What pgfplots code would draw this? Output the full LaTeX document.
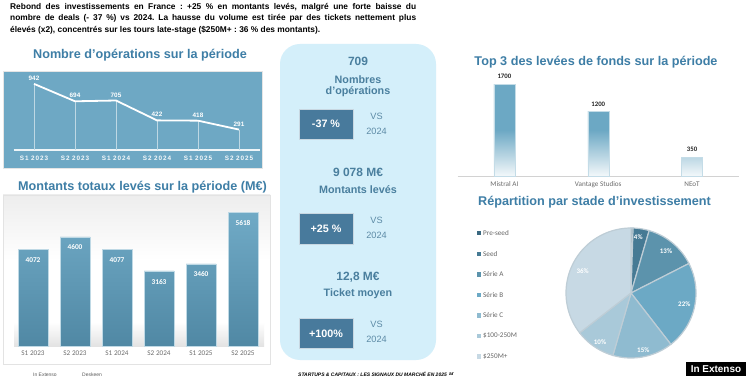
\documentclass[border=0pt]{standalone}
\usepackage{pgfplots}
\pgfplotsset{compat=1.18}
\usepackage{fontspec}
\setmainfont{Liberation Sans}
\newfontfamily\calfont{Carlito}
\definecolor{titleblue}{RGB}{62,126,166}
\definecolor{linepanel}{RGB}{110,168,196}
\definecolor{midfill}{RGB}{212,239,250}
\definecolor{midtext}{RGB}{74,127,158}
\definecolor{boxfill}{RGB}{72,122,156}
\definecolor{vstext}{RGB}{92,138,165}
\definecolor{bartop}{RGB}{112,170,198}
\definecolor{barbot}{RGB}{80,136,164}
\definecolor{topbar}{RGB}{108,168,196}
\definecolor{pA}{RGB}{58,104,128}
\definecolor{pB}{RGB}{70,122,148}
\definecolor{pC}{RGB}{92,147,172}
\definecolor{pD}{RGB}{108,169,197}
\definecolor{pE}{RGB}{143,187,208}
\definecolor{pF}{RGB}{169,201,217}
\definecolor{pG}{RGB}{199,217,228}
\definecolor{pieedge}{RGB}{190,205,214}
\pgfplotsset{/pgf/number format/.cd, 1000 sep={}, assume math mode=true}
\tikzset{px/.style={x=1bp,y=-1bp,yshift=375bp}}
\begin{document}
\frenchspacing
\begin{tikzpicture}
\begin{scope}[px]
\useasboundingbox (0,0) rectangle (750,375);
\fill[white] (0,0) rectangle (750,375);

% ---------- top text
\node[anchor=north west, inner sep=0pt, text width=406bp, align=justify,
  font=\bfseries\fontsize{8.4}{11.4}\selectfont] at (10,3.2)
  {\frenchspacing Rebond des investissements en France : +25 \% en montants levés, malgré une forte baisse du\linebreak
   nombre de deals (- 37 \%) vs 2024. La hausse du volume est tirée par des tickets nettement plus\linebreak
   élevés (x2), concentrés sur les tours late-stage (\$250M+ : 36 \% des montants).};

% ---------- titles
\tikzset{ttl/.style={font=\bfseries\fontsize{12.7}{14}\selectfont, text=titleblue, inner sep=0pt}}
\node[ttl] at (140,55) {Nombre d'opérations sur la période};
\node[ttl] at (142.5,187) {Montants totaux levés sur la période (M€)};
\node[ttl] at (596,62.5) {Top 3 des levées de fonds sur la période};
\node[ttl] at (594.5,202) {Répartition par stade d'investissement};

% ---------- panels
\fill[linepanel] (3.5,71.5) rectangle (262,168);
\draw[gray!20, line width=0.8bp] (3.5,71.5) rectangle (262,168);
\fill[white] (3,195) rectangle (270,364);
\shade[top color=gray!14, bottom color=white] (3,195) rectangle (270,260);
\shade[top color=white, bottom color=gray!22] (14,322) rectangle (264,346);
\draw[gray!22, line width=0.8bp] (3,195) rectangle (270,364);
\fill[midfill, rounded corners=20bp] (280,44) rectangle (436,360);
\end{scope}

% ---------- line chart
\begin{axis}[at={(13.5bp,225bp)}, anchor=south west, scale only axis,
  width=246bp, height=70.2bp, xmin=-0.5, xmax=5.5, ymin=0, ymax=1000,
  axis line style={draw=none}, ytick=\empty, xtick={0,1,2,3,4,5},
  xticklabels={S1 2023,S2 2023,S1 2024,S2 2024,S1 2025,S2 2025},
  major tick length=0pt,
  xticklabel style={font=\bfseries\fontsize{6.4}{7}\selectfont\addfontfeatures{LetterSpace=14}, text=white!92!linepanel, yshift=-2.5bp},
  clip=false]
\addplot[white!88!linepanel, line width=1.1bp, forget plot] coordinates {(-0.5,0) (5.5,0)};
\addplot[ycomb, white!55!linepanel, line width=0.5bp, no markers] coordinates {(0,942) (1,694) (2,705) (3,422) (4,418) (5,291)};
\addplot[white, line width=1.8bp, no markers,
  nodes near coords, every node near coord/.append style={font=\bfseries\fontsize{6.4}{7}\selectfont, text=white, anchor=south, inner sep=1bp, yshift=1.5bp}]
  coordinates {(0,942) (1,694) (2,705) (3,422) (4,418) (5,291)};
\end{axis}

% ---------- bar chart
\begin{axis}[at={(12bp,29bp)}, anchor=south west, scale only axis,
  width=252bp, height=142.4bp, xmin=-0.5, xmax=5.5, ymin=0, ymax=6000,
  ybar, bar width=30bp,
  axis line style={draw=none}, ytick=\empty, xtick={0,1,2,3,4,5},
  xticklabels={S1 2023,S2 2023,S1 2024,S2 2024,S1 2025,S2 2025},
  major tick length=0pt,
  xticklabel style={font=\calfont\fontsize{7.2}{8}\selectfont, text=gray!85!black, yshift=-1.5bp},
  clip=false]
\addplot[draw=white!55!bartop, line width=0.5bp, top color=bartop, bottom color=barbot,
  nodes near coords, every node near coord/.append style={font=\calfont\bfseries\fontsize{7.4}{8}\selectfont, text=white, anchor=north, yshift=-4.5bp}]
  coordinates {(0,4072) (1,4600) (2,4077) (3,3163) (4,3460) (5,5618)};
\end{axis}

% ---------- top 3 bars
\begin{axis}[at={(457.5bp,199bp)}, anchor=south west, scale only axis,
  width=281.5bp, height=108.2bp, xmin=-0.5, xmax=2.5, ymin=0, ymax=2000,
  ybar, bar width=21bp,
  axis x line*=bottom, axis y line=none, x axis line style={gray!35, line width=0.6bp, -},
  ytick=\empty, xtick={0,1,2}, xticklabels={Mistral AI,Vantage Studios,NEoT},
  major tick length=0pt,
  xticklabel style={font=\calfont\fontsize{7.2}{8}\selectfont, text=gray!85!black, yshift=-2bp},
  clip=false]
\addplot[draw=white!60!topbar, line width=0.4bp, top color=topbar, bottom color=white!92!topbar, middle color=topbar,
  nodes near coords, every node near coord/.append style={font=\calfont\bfseries\fontsize{6.8}{8}\selectfont, text=gray!30!black, anchor=south, yshift=1.5bp}]
  coordinates {(0,1700) (1,1200) (2,350)};
\end{axis}

% ---------- pie
\begin{axis}[at={(566bp,17bp)}, anchor=south west, scale only axis,
  width=130bp, height=130bp, xmin=-1, xmax=1, ymin=-1, ymax=1,
  hide axis, clip=false]
\addplot[fill=pA, draw=pieedge, line width=1.2bp, domain=0:0.5, samples=4, variable=\t]
  ({cos(90-3.6*\t)},{sin(90-3.6*\t)}) -- (axis cs:0,0) -- cycle;
\addplot[fill=pB, draw=pieedge, line width=1.2bp, domain=0.5:4.5, samples=8, variable=\t]
  ({cos(90-3.6*\t)},{sin(90-3.6*\t)}) -- (axis cs:0,0) -- cycle;
\addplot[fill=pC, draw=pieedge, line width=1.2bp, domain=4.5:17.5, samples=20, variable=\t]
  ({cos(90-3.6*\t)},{sin(90-3.6*\t)}) -- (axis cs:0,0) -- cycle;
\addplot[fill=pD, draw=pieedge, line width=1.2bp, domain=17.5:39.5, samples=30, variable=\t]
  ({cos(90-3.6*\t)},{sin(90-3.6*\t)}) -- (axis cs:0,0) -- cycle;
\addplot[fill=pE, draw=pieedge, line width=1.2bp, domain=39.5:54.5, samples=22, variable=\t]
  ({cos(90-3.6*\t)},{sin(90-3.6*\t)}) -- (axis cs:0,0) -- cycle;
\addplot[fill=pF, draw=pieedge, line width=1.2bp, domain=54.5:64.5, samples=16, variable=\t]
  ({cos(90-3.6*\t)},{sin(90-3.6*\t)}) -- (axis cs:0,0) -- cycle;
\addplot[fill=pG, draw=pieedge, line width=1.2bp, domain=64.5:100, samples=45, variable=\t]
  ({cos(90-3.6*\t)},{sin(90-3.6*\t)}) -- (axis cs:0,0) -- cycle;
\end{axis}

\begin{scope}[px]
% ---------- middle panel texts
\tikzset{big/.style={font=\bfseries\fontsize{12}{13}\selectfont, text=midtext, inner sep=0pt},
         lab/.style={font=\bfseries\fontsize{10.8}{12}\selectfont, text=midtext, inner sep=0pt, align=center},
         vs/.style={font=\fontsize{9.2}{10}\selectfont, text=vstext, inner sep=0pt},
         bx/.style={fill=boxfill, draw=white!70!boxfill, line width=0.6bp}}
\node[big] at (358,61.5) {709};
\node[lab] at (358,79.5) {Nombres};
\node[lab] at (358,91.5) {d’opérations};
\draw[bx] (299,109) rectangle (353,139);
\node[font=\bfseries\fontsize{10.8}{12}\selectfont, text=white] at (326,124) {-37 \%};
\node[vs] at (376.5,116) {VS};
\node[vs] at (376.5,131) {2024};

\node[big] at (358,172.5) {9 078 M€};
\node[lab] at (358,190) {Montants levés};
\draw[bx] (299,213.5) rectangle (353,244);
\node[font=\bfseries\fontsize{10.8}{12}\selectfont, text=white] at (326,229) {+25 \%};
\node[vs] at (376.5,220) {VS};
\node[vs] at (376.5,235) {2024};

\node[big] at (358,277.5) {12,8 M€};
\node[lab] at (358,294) {Ticket moyen};
\draw[bx] (299,318) rectangle (353,348.5);
\node[font=\bfseries\fontsize{10.8}{12}\selectfont, text=white] at (326,333.5) {+100\%};
\node[vs] at (376.5,324.5) {VS};
\node[vs] at (376.5,339.5) {2024};

% ---------- pie labels
\tikzset{pl/.style={font=\calfont\bfseries\fontsize{7}{8}\selectfont, text=white, inner sep=0pt}}
\node[pl] at (638.3,237.5) {4\%};
\node[pl] at (666,250.7) {13\%};
\node[pl] at (684.3,304.3) {22\%};
\node[pl] at (643.3,350) {15\%};
\node[pl] at (600,341.7) {10\%};
\node[pl] at (582.7,271) {36\%};

% legend
\tikzset{lg/.style={font=\calfont\fontsize{7.2}{8}\selectfont, text=gray!80!black, anchor=west, inner sep=0pt}}
\foreach \c/\t/\yy in {pA/Pre-seed/233.3, pB/Seed/254, pC/Série A/274.5, pD/Série B/295, pE/Série C/315.5, pF/\$100-250M/336, pG/\$250M+/356.7}{
  \fill[\c] (476.5,\yy-2.3) rectangle (481,\yy+2.2);
  \node[lg] at (483,\yy) {\t};
}

% ---------- footer
\fill[black] (686,361.5) rectangle (746,376);
\node[font=\bfseries\fontsize{10}{11}\selectfont, text=white, inner sep=0pt] at (716,369.5) {In Extenso};
\node[font=\fontsize{5}{6}\selectfont, text=gray!70!black, anchor=west, inner sep=0pt] at (33,374.5) {In Extenso};
\node[font=\fontsize{5}{6}\selectfont, text=gray!70!black, anchor=west, inner sep=0pt] at (82,374.5) {Deskeen};
\node[font=\bfseries\itshape\fontsize{5}{6}\selectfont, text=black, anchor=west, inner sep=0pt] at (298,374.5) {STARTUPS \& CAPITAUX : LES SIGNAUX DU MARCHÉ EN 2025};
\node[font=\bfseries\fontsize{5}{6}\selectfont, text=black, anchor=west, inner sep=0pt] at (449,374.5) {ar};
\end{scope}
\end{tikzpicture}
\end{document}
